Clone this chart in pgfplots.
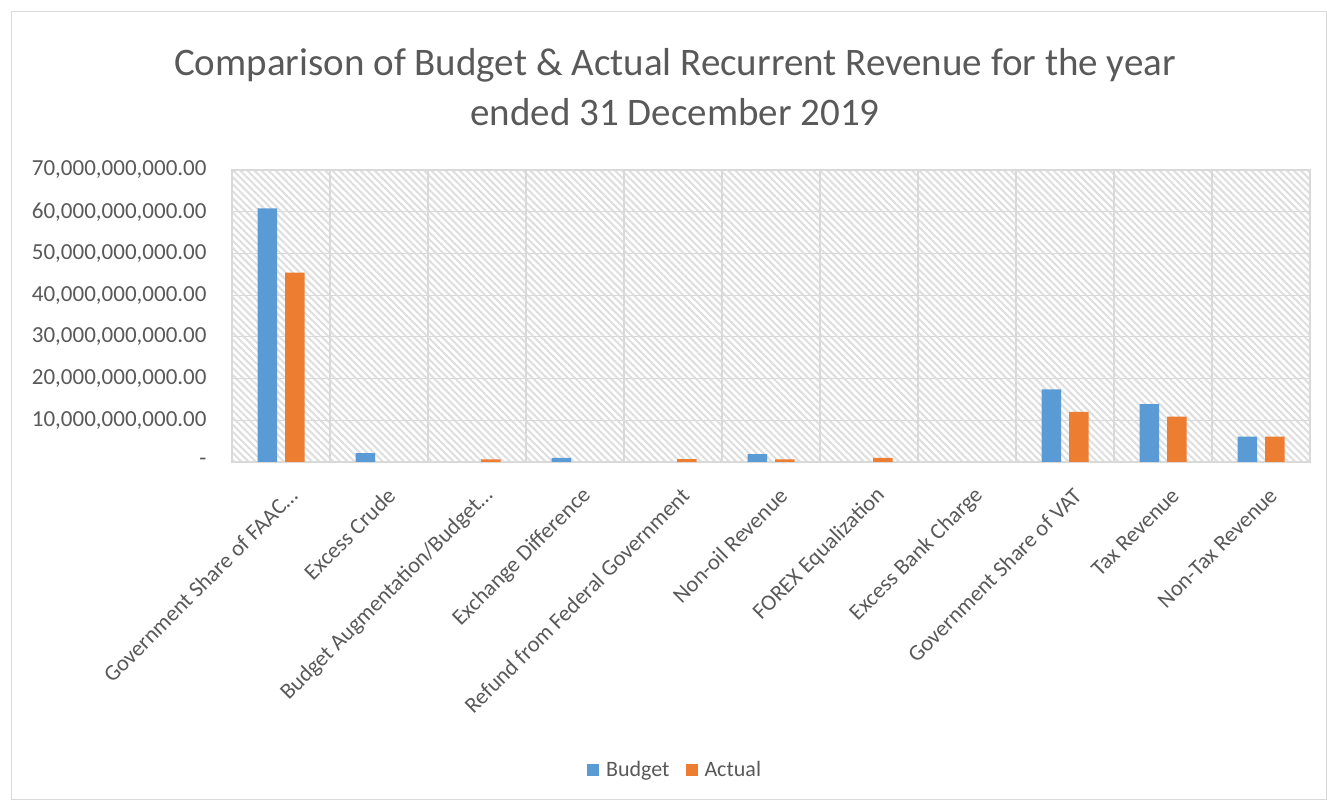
\documentclass[border=0pt]{standalone}
\usepackage{fontspec}
\setmainfont{Carlito}
\usepackage{pgfplots}
\pgfplotsset{compat=1.18}
\usetikzlibrary{patterns.meta}
\definecolor{txt}{HTML}{595959}
\definecolor{cblue}{HTML}{5B9BD5}
\definecolor{corange}{HTML}{ED7D31}
\definecolor{gridc}{HTML}{D9D9D9}
\definecolor{hatch}{HTML}{DEDEDE}
\begin{document}
\begin{tikzpicture}[x=1pt,y=1pt]
\path[use as bounding box] (0,0) rectangle (1327,800);
\draw[gridc, line width=1pt] (11,1) rectangle (1326,788);
\node[text=txt, font=\fontsize{39}{50}\selectfont, align=center] at (675,713)
  {Comparison of Budget \& Actual Recurrent Revenue for the year\\ended 31 December 2019};
\begin{axis}[
  at={(232pt,338pt)}, anchor=south west,
  scale only axis, width=1078pt, height=292pt,
  ybar=8pt, bar width=19.5pt,
  xmin=-0.5, xmax=10.5, ymin=0, ymax=70000000000,
  xtick={0,1,...,10},
  xticklabels={Government Share of FAAC…, Excess Crude, Budget Augmentation/Budget…, Exchange Difference, Refund from Federal Government, Non-oil Revenue, FOREX Equalization, Excess Bank Charge, Government Share of VAT, Tax Revenue, Non-Tax Revenue},
  minor xtick={-0.5,0.5,...,10.5},
  ytick={0,10000000000,20000000000,30000000000,40000000000,50000000000,60000000000,70000000000},
  yticklabels={-\hspace{13pt},{10,000,000,000.00},{20,000,000,000.00},{30,000,000,000.00},{40,000,000,000.00},{50,000,000,000.00},{60,000,000,000.00},{70,000,000,000.00}},
  major tick length=0pt, minor tick length=0pt,
  ymajorgrids, xminorgrids,
  major grid style={gridc, line width=1.2pt},
  minor grid style={gridc, line width=1.2pt},
  axis line style={gridc, line width=1.2pt},
  axis background/.style={fill=white, postaction={pattern={Lines[angle=-45, distance=5pt, line width=2pt]}, pattern color=hatch}},
  xticklabel style={rotate=45, anchor=east, font=\fontsize{22.5}{26}\selectfont, text=txt, xshift=-9pt, yshift=-30pt},
  yticklabel style={anchor=east, font=\fontsize{23}{27}\selectfont, text=txt, xshift=-22pt},
  scaled y ticks=false,
  legend style={at={(0.411,-1.055)}, anchor=center, legend columns=2, draw=none, fill=none, font=\fontsize{22}{26}\selectfont, text=txt, /tikz/every even column/.append style={column sep=14pt}, /tikz/every odd column/.append style={column sep=5pt}},
  legend image code/.code={\fill[#1] (0pt,-6pt) rectangle (12pt,6pt);},
]
\addplot[fill=cblue, draw=none] coordinates {(0,60800000000) (1,2100000000) (3,1000000000) (5,1900000000) (8,17400000000) (9,13900000000) (10,6100000000)};
\addplot[fill=corange, draw=none] coordinates {(0,45400000000) (2,600000000) (4,700000000) (5,600000000) (6,1000000000) (8,12000000000) (9,10900000000) (10,6100000000)};
\legend{Budget, Actual}
\end{axis}
\end{tikzpicture}
\end{document}
